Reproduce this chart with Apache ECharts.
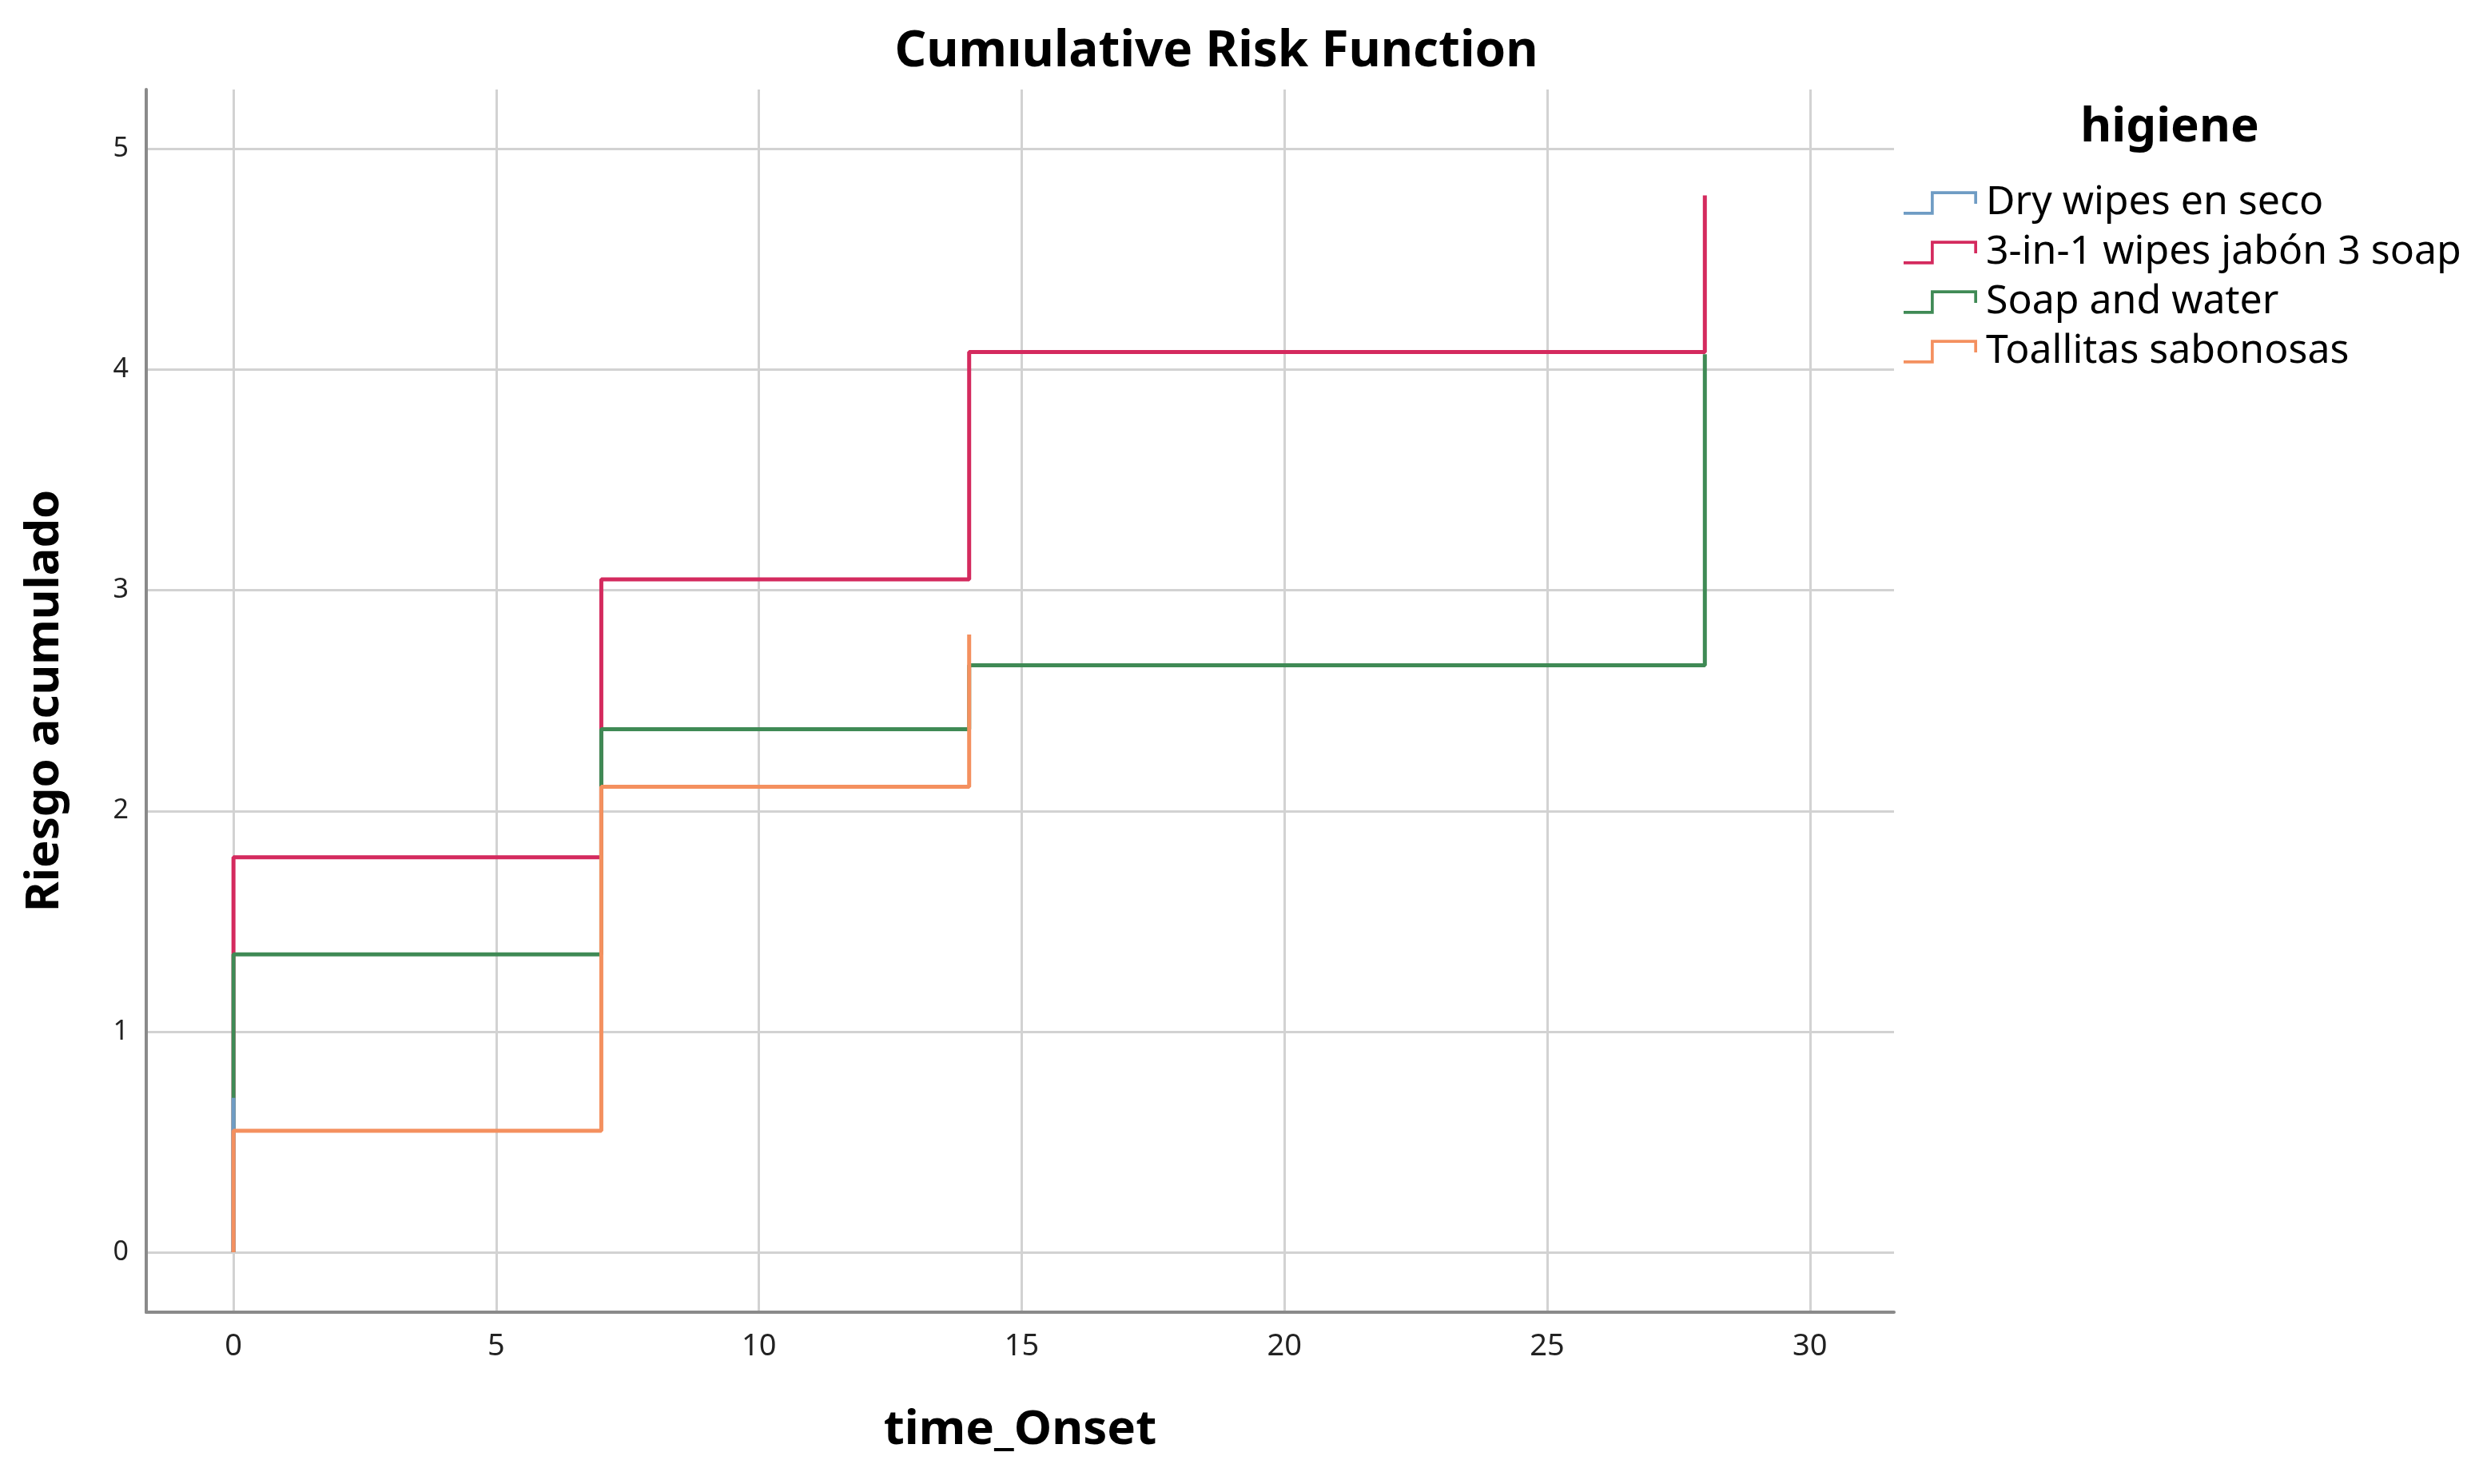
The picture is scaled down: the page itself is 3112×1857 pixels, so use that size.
<!DOCTYPE html>
<html>
<head>
<meta charset="utf-8">
<script src="https://cdn.jsdelivr.net/npm/echarts@6/dist/echarts.min.js"></script>
<style>
html,body{margin:0;padding:0;background:#fff;}
#chart{width:3112px;height:1857px;}
</style>
</head>
<body>
<div id="chart"></div>
<script>
// ---- data ----
const seriesNames = ["Dry wipes en seco", "3-in-1 wipes jabón 3 soap", "Soap and water", "Toallitas sabonosas"];
const dryTime = [0, 0];
const dryRisk = [0, 0.70];
const wipes3Time = [0, 0, 7, 14, 28];
const wipes3Risk = [0, 1.79, 3.05, 4.08, 4.79];
const soapTime = [0, 0, 7, 14, 28];
const soapRisk = [0, 1.35, 2.37, 2.66, 4.07];
const toallTime = [0, 0, 7, 14];
const toallRisk = [0, 0.55, 2.11, 2.80];
const xTicks = [0, 5, 10, 15, 20, 25, 30];
const yTicks = [0, 1, 2, 3, 4, 5];

const colors = {
  dry: "#6f9cc4",
  wipes3: "#d42a5e",
  soap: "#3f8a55",
  toall: "#f4905f"
};

function pairs(t, r) { return t.map((v, i) => [v, r[i]]); }

const FONT = "Noto Sans";
const stepIcon = "path://M0,29 L37,29 L37,1 L100,1 L100,18 L96,18 L96,5 L41,5 L41,33 L0,33 Z";

function stepSeries(name, data, color, z) {
  return {
    name: name,
    type: "line",
    step: "end",
    data: data,
    showSymbol: false,
    symbol: "none",
    color: color,
    z: z,
    lineStyle: { color: color, width: 5 },
    itemStyle: { color: color },
    emphasis: { disabled: true }
  };
}

const chart = echarts.init(document.getElementById("chart"), null, { renderer: "canvas" });
chart.setOption({
  animation: false,
  backgroundColor: "#ffffff",
  title: [
    {
      text: "Cumıulative Risk Function",
      left: 1522,
      top: 34,
      padding: 0,
      textAlign: "center",
      textStyle: { fontFamily: FONT, fontSize: 62, fontWeight: "bold", color: "#000" }
    },
    {
      text: "higiene",
      left: 2715,
      top: 130,
      padding: 0,
      textAlign: "center",
      textStyle: { fontFamily: FONT, fontSize: 60, fontWeight: "bold", color: "#000" }
    }
  ],
  legend: {
    orient: "vertical",
    left: 2382,
    top: 226,
    padding: 0,
    itemWidth: 92,
    itemHeight: 31,
    itemGap: 6,
    icon: stepIcon,
    selectedMode: false,
    data: seriesNames,
    textStyle: { fontFamily: FONT, fontSize: 50, lineHeight: 56, color: "#000", padding: [0, 0, 0, 6] }
  },
  grid: { left: 183, right: 742, top: 112, bottom: 215, containLabel: false },
  xAxis: {
    type: "value",
    min: -1.66,
    max: 31.6,
    name: "time_Onset",
    nameLocation: "middle",
    nameGap: 118,
    nameTextStyle: { fontFamily: FONT, fontSize: 60, fontWeight: "bold", color: "#000" },
    axisLine: { show: true, onZero: false, lineStyle: { color: "#8a8a8a", width: 4 } },
    axisTick: { show: false, customValues: xTicks },
    axisLabel: { customValues: xTicks, margin: 24, fontFamily: FONT, fontSize: 38, color: "#222" },
    splitLine: { show: true, lineStyle: { color: "#d2d2d2", width: 3 } }
  },
  yAxis: {
    type: "value",
    min: -0.272,
    max: 5.27,
    name: "Riesgo acumulado",
    nameLocation: "middle",
    nameGap: 98,
    nameTextStyle: { fontFamily: FONT, fontSize: 58, fontWeight: "bold", color: "#000" },
    axisLine: { show: true, onZero: false, lineStyle: { color: "#8a8a8a", width: 4 } },
    axisTick: { show: false, customValues: yTicks },
    axisLabel: { customValues: yTicks, margin: 22, fontFamily: FONT, fontSize: 34, color: "#222" },
    splitLine: { show: true, lineStyle: { color: "#d2d2d2", width: 3 } }
  },
  series: [
    stepSeries(seriesNames[1], pairs(wipes3Time, wipes3Risk), colors.wipes3, 2),
    stepSeries(seriesNames[2], pairs(soapTime, soapRisk), colors.soap, 3),
    stepSeries(seriesNames[0], pairs(dryTime, dryRisk), colors.dry, 4),
    stepSeries(seriesNames[3], pairs(toallTime, toallRisk), colors.toall, 5)
  ]
});
</script>
</body>
</html>
